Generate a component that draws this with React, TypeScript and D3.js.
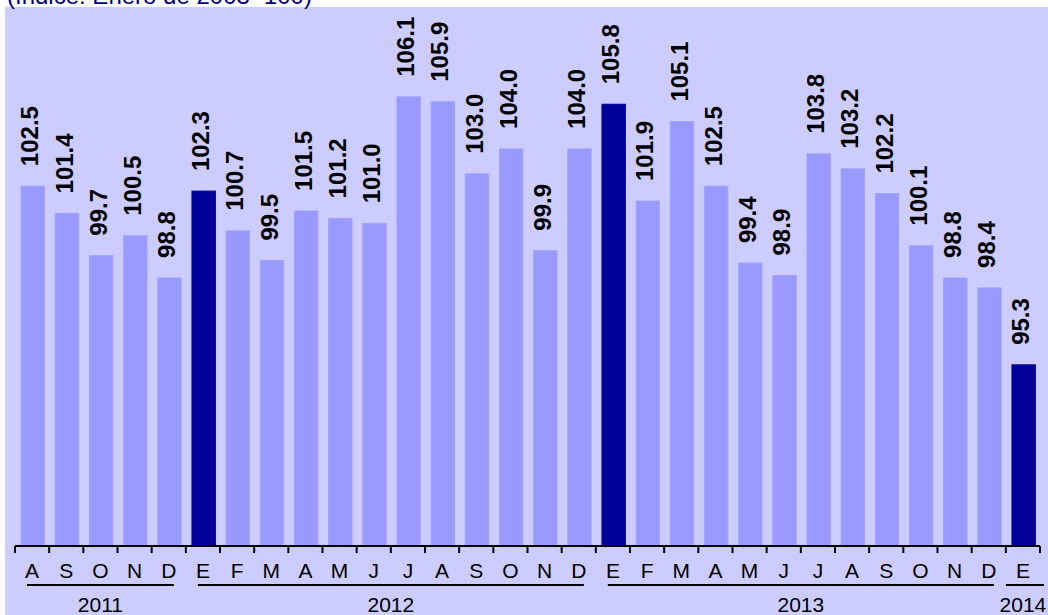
import React, { useEffect, useRef } from 'react';
import * as d3 from 'd3';

const months = ['A', 'S', 'O', 'N', 'D', 'E', 'F', 'M', 'A', 'M', 'J', 'J', 'A', 'S', 'O', 'N', 'D', 'E', 'F', 'M', 'A', 'M', 'J', 'J', 'A', 'S', 'O', 'N', 'D', 'E'];
const values = [102.5, 101.4, 99.7, 100.5, 98.8, 102.3, 100.7, 99.5, 101.5, 101.2, 101.0, 106.1, 105.9, 103.0, 104.0, 99.9, 104.0, 105.8, 101.9, 105.1, 102.5, 99.4, 98.9, 103.8, 103.2, 102.2, 100.1, 98.8, 98.4, 95.3];
const years = ['2011', '2012', '2013', '2014'];
const yearMonthCounts = [5, 12, 12, 1];
const title = '(Índice: Enero de 2003=100)';

const W = 1048;
const H = 615;

export default function App() {
  const svgRef = useRef<SVGSVGElement>(null);

  useEffect(() => {
    if (!svgRef.current) return;
    const svg = d3.select(svgRef.current);
    svg.selectAll('*').remove();

    const margin = { top: 0, right: 8, bottom: 69, left: 15 };
    const axisY = H - margin.bottom;

    const keys = months.map((m, i) => `${i}`);
    const x = d3.scaleBand()
      .domain(keys)
      .range([margin.left, W - margin.right])
      .paddingInner(0.3)
      .paddingOuter(0.15);

    const y = d3.scaleLinear()
      .domain([88, 110])
      .range([axisY, margin.top]);

    const step = x.step();
    const bandStart = (i: number) => margin.left + i * step;

    // backdrop
    svg.append('rect')
      .attr('x', 5)
      .attr('y', 7)
      .attr('width', W - 5)
      .attr('height', H - 7)
      .attr('fill', '#CCCCFF');

    // title (partly cut at top, as in the source)
    svg.append('text')
      .attr('x', 7)
      .attr('y', 4)
      .attr('font-family', 'Liberation Sans, Arial, sans-serif')
      .attr('font-size', 24)
      .attr('fill', '#000080')
      .text(title);

    // bars
    svg.selectAll('.bar')
      .data(values)
      .enter()
      .append('rect')
      .attr('class', 'bar')
      .attr('x', (d, i) => x(keys[i])! + 1)
      .attr('y', d => y(d))
      .attr('width', x.bandwidth() - 0.5)
      .attr('height', d => axisY - y(d))
      .attr('fill', (d, i) => months[i] === 'E' ? '#000099' : '#9999FF')
      .attr('stroke', (d, i) => months[i] === 'E' ? '#000099' : '#A3A3FF')
      .attr('stroke-width', 1);

    // value labels, rotated
    svg.selectAll('.val')
      .data(values)
      .enter()
      .append('text')
      .attr('class', 'val')
      .attr('transform', (d, i) => `translate(${x(keys[i])! + x.bandwidth() / 2},${y(d) - 20}) rotate(-90)`)
      .attr('dy', '0.26em')
      .attr('font-family', 'Liberation Sans, Arial, sans-serif')
      .attr('font-size', 24)
      .attr('font-weight', 'bold')
      .attr('fill', '#000')
      .text(d => d.toFixed(1));

    // axis line
    svg.append('line')
      .attr('x1', margin.left)
      .attr('x2', W - margin.right)
      .attr('y1', axisY)
      .attr('y2', axisY)
      .attr('stroke', '#000')
      .attr('stroke-width', 2);

    // ticks at band boundaries
    svg.selectAll('.tick')
      .data(d3.range(months.length + 1))
      .enter()
      .append('line')
      .attr('x1', i => bandStart(i))
      .attr('x2', i => bandStart(i))
      .attr('y1', axisY)
      .attr('y2', axisY + 7)
      .attr('stroke', '#000')
      .attr('stroke-width', 2);

    // month labels
    svg.selectAll('.month')
      .data(months)
      .enter()
      .append('text')
      .attr('class', 'month')
      .attr('x', (d, i) => x(keys[i])! + x.bandwidth() / 2)
      .attr('y', axisY + 32)
      .attr('text-anchor', 'middle')
      .attr('font-family', 'Liberation Sans, Arial, sans-serif')
      .attr('font-size', 21)
      .attr('fill', '#000')
      .text(d => d);

    // year groups with underline
    let start = 0;
    years.forEach((yr, gi) => {
      const n = yearMonthCounts[gi];
      const x0 = bandStart(start);
      const x1 = bandStart(start + n);
      const cx = (x0 + x1) / 2;
      const u0 = n > 1 ? x0 + 12 : cx - 17;
      const u1 = n > 1 ? x1 - 12 : cx + 21;
      svg.append('line')
        .attr('x1', u0)
        .attr('x2', u1)
        .attr('y1', axisY + 39)
        .attr('y2', axisY + 39)
        .attr('stroke', '#000')
        .attr('stroke-width', 2);
      svg.append('text')
        .attr('x', cx)
        .attr('y', axisY + 66)
        .attr('text-anchor', 'middle')
        .attr('font-family', 'Liberation Sans, Arial, sans-serif')
        .attr('font-size', 21)
        .attr('fill', '#000')
        .text(yr);
      start += n;
    });
  }, []);

  return (
    <div style={{ position: 'absolute', left: 0, top: 0, width: W, height: H, overflow: 'hidden', background: '#fff' }}>
      <svg ref={svgRef} width={W} height={H} style={{ display: 'block' }} />
    </div>
  );
}
